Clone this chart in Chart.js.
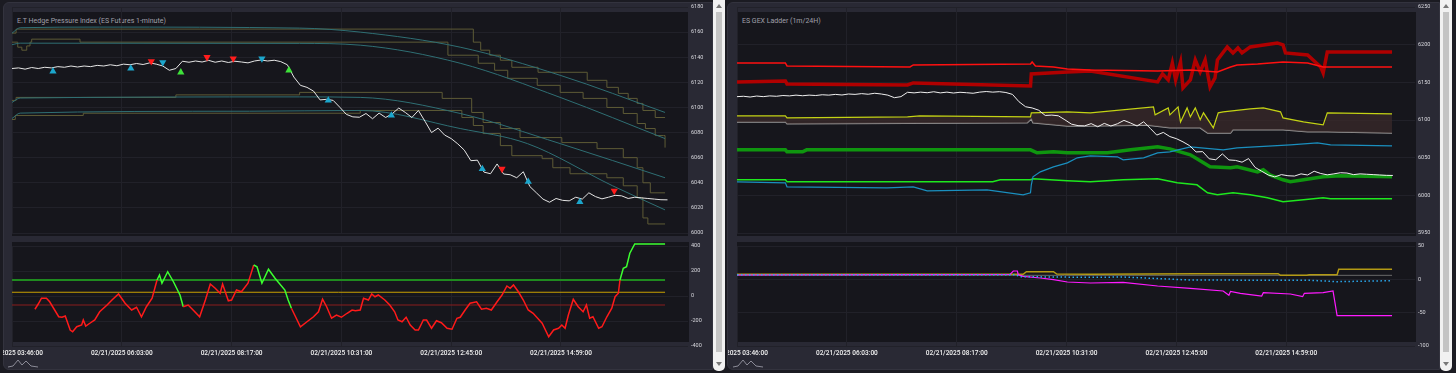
<!DOCTYPE html>
<html>
<head>
<meta charset="utf-8">
<script src="https://cdn.jsdelivr.net/npm/chart.js@4.4.1/dist/chart.umd.min.js"></script>
<style>
  html, body { margin: 0; padding: 0; width: 1456px; height: 373px; overflow: hidden; background: #1b1b22; }
  body { position: relative; font-family: Roboto, "Noto Sans", sans-serif; }
  .panel { position: absolute; top: 2px; height: 368px; background: #292934; border: 1px solid #33333e; box-sizing: border-box; border-radius: 6px 0 0 6px; }
  .plot { position: absolute; background: #16161c; }
  .title { position: absolute; top: 17px; color: #a0a0aa; font-size: 7px; white-space: nowrap; }
  .scroll { position: absolute; top: 0; width: 12px; height: 371px; background: #f1f1f1; border-radius: 0 0 5px 5px; }
  .thumb { position: absolute; left: 3px; width: 6px; top: 12px; height: 340px; background: #c4c4c4; }
  .arrow { position: absolute; left: 3px; width: 0; height: 0; border-left: 3px solid transparent; border-right: 3px solid transparent; }
  canvas { position: absolute; }
  svg { position: absolute; }
</style>
</head>
<body>
<div class="panel" style="left:3px;width:710px"></div>
<div class="plot" style="left:12px;top:12px;width:676px;height:224px"></div>
<div class="plot" style="left:12px;top:242px;width:677px;height:100px"></div>
<div class="title" style="left:17px">E.T Hedge Pressure Index (ES Futures 1-minute)</div>

<div class="panel" style="left:727px;width:713px"></div>
<div class="plot" style="left:737px;top:12px;width:679px;height:224px"></div>
<div class="plot" style="left:737px;top:242px;width:679px;height:100px"></div>
<div class="title" style="left:742px">ES GEX Ladder (1m/24H)</div>

<div class="scroll" style="left:713px"><div class="thumb"></div><div class="arrow" style="top:4px;border-bottom:4px solid #777"></div><div class="arrow" style="top:362px;border-top:4px solid #777"></div></div>
<div class="scroll" style="left:1440px"><div class="thumb"></div><div class="arrow" style="top:4px;border-bottom:4px solid #777"></div><div class="arrow" style="top:362px;border-top:4px solid #777"></div></div>

<svg style="left:7px;top:357px" width="32" height="12"><polyline points="1,10 6,9 11,3 15,8 19,4 24,9 31,10" fill="none" stroke="#8a8a96" stroke-width="1"/></svg>
<svg style="left:732px;top:357px" width="32" height="12"><polyline points="1,10 6,9 11,3 15,8 19,4 24,9 31,10" fill="none" stroke="#8a8a96" stroke-width="1"/></svg>

<canvas id="leftMain" width="710" height="240" style="left:3px;top:0px"></canvas>
<canvas id="leftSub" width="710" height="131" style="left:3px;top:240px"></canvas>
<canvas id="rightMain" width="712" height="240" style="left:728px;top:0px"></canvas>
<canvas id="rightSub" width="712" height="131" style="left:728px;top:240px"></canvas>

<script>
// x axis is minutes since the first bar
const tickMinutes = [0, 134, 268, 402, 536, 670];
const tickLabels = ['02/21/2025 03:46:00', '02/21/2025 06:03:00', '02/21/2025 08:17:00',
  '02/21/2025 10:31:00', '02/21/2025 12:45:00', '02/21/2025 14:59:00'];

// ES price, one value every 8 minutes
const priceStep = 8;
const priceValues = [
  6131, 6131.5, 6130.5, 6131.8, 6131, 6132, 6131.5, 6132.5, 6132, 6133,
  6132.2, 6133, 6132.5, 6133.5, 6133, 6134, 6133.2, 6134.5, 6134, 6135,
  6134.2, 6135.5, 6134.5, 6133, 6129.6, 6131, 6136.8, 6136, 6137, 6136.2,
  6137.5, 6136, 6137, 6135.8, 6136.8, 6136.2, 6135.5, 6137, 6137.8, 6137,
  6137.6, 6136.5, 6134, 6124.2, 6117.6, 6116, 6113, 6106, 6106.5, 6105.6,
  6100.2, 6094.5, 6092.5, 6092.2, 6095.2, 6091, 6095.5, 6092, 6095, 6099.5,
  6096, 6092, 6097.6, 6089, 6080, 6083.5, 6078, 6075.2, 6071, 6066,
  6057.6, 6058, 6048.5, 6047.2, 6055, 6047, 6046.4, 6044, 6048.8, 6037,
  6032, 6027, 6024.5, 6027.5, 6026, 6025.6, 6028.5, 6027, 6032, 6029,
  6027.2, 6028.5, 6030, 6029.6, 6027.5, 6028.5, 6028, 6027.5, 6027, 6026.5,
  6026.4
];

// hedge pressure bands [minute, value]
const teal1 = [[0, 6159.2], [10, 6163.5], [107, 6164], [351, 6163.2], [425, 6160], [547, 6148], [669, 6125.6], [797, 6096]];
const teal2 = [[0, 6150], [10, 6151.2], [351, 6151], [425, 6149.6], [547, 6135.2], [669, 6108], [797, 6075.2]];
const teal3 = [[0, 6104], [10, 6107.5], [351, 6108.4], [425, 6108], [547, 6095.2], [669, 6071.2], [797, 6044]];
const teal4 = [[0, 6091.2], [10, 6095.5], [290, 6097], [425, 6097.6], [547, 6083.2], [629, 6071.2], [733, 6037.6], [797, 6018.4]];

const oliveA = [[0, 6159.2], [5, 6162.4], [563, 6152], [572, 6145.6], [583, 6141.6], [596, 6137.6], [610, 6132], [642, 6128],
  [702, 6121.6], [726, 6116], [740, 6111.2], [752, 6107.2], [763, 6103.2], [770, 6097.6], [785, 6092], [797, 6092]];
const oliveB = [[0, 6152], [7, 6148], [12, 6145.6], [18, 6149], [22, 6152], [24, 6154.4], [83, 6152], [532, 6141.6], [569, 6135.2],
  [589, 6129.6], [605, 6123.2], [641, 6117.6], [669, 6112], [697, 6107.2], [726, 6100], [746, 6095.2], [763, 6087.2],
  [773, 6083.2], [785, 6077.6], [795, 6077.6], [797, 6068]];
const oliveC = [[0, 6105.6], [5, 6108], [200, 6110], [351, 6112], [525, 6107.2], [561, 6096], [575, 6088], [596, 6083.2],
  [620, 6076], [671, 6072], [714, 6067.2], [746, 6060], [763, 6052], [770, 6040], [779, 6032], [797, 6032]];
const oliveD = [[0, 6090.4], [4, 6093.6], [87, 6095.4], [425, 6097.6], [549, 6092], [563, 6085.6], [575, 6079.2], [596, 6069.6],
  [610, 6061.6], [647, 6059.2], [660, 6052], [681, 6047.2], [726, 6044], [746, 6037.6], [763, 6028], [770, 6012],
  [776, 6007.2], [797, 6007.2]];

// signal markers [minute, price]
const cyanUp = [[50, 6128.8], [145, 6131], [386, 6105.6], [463, 6093.6], [574, 6051], [630, 6040.8], [693, 6024.8]];
const greenUp = [[206, 6128], [338, 6129.6]];
const redDown = [[170, 6136.8], [238, 6140], [270, 6139], [598, 6051], [735, 6033.6]];
const cyanDown = [[184, 6136], [305, 6139]];

// pressure oscillator [minute, value] and its levels
const upperLevel = 128;
const midLevel = 30;
const lowerLevel = -72;
const oscillator = [[28, -106], [32, -64], [36, -18], [42, -18], [46, -46], [57, -166], [61, -170], [65, -160], [71, -272],
  [74, -286], [79, -246], [85, -232], [87, -192], [90, -240], [95, -218], [101, -192], [107, -126], [116, -72], [122, -32],
  [130, 16], [138, -58], [146, -112], [152, -90], [158, -166], [164, -86], [171, -18], [177, 128], [180, 168], [183, 102],
  [190, 194], [197, 114], [205, 8], [209, -86], [215, -72], [221, -112], [229, -166], [236, -32], [242, 96], [248, 62],
  [254, 22], [257, 96], [264, -38], [268, -32], [274, 48], [280, 34], [288, 102], [295, 248], [299, 234], [305, 102],
  [313, 214], [321, 142], [333, 48], [337, -32], [341, -98], [345, -152], [352, -246], [360, -206], [368, -166],
  [374, -126], [379, -26], [384, -86], [390, -178], [396, -152], [402, -170], [409, -138], [415, -112], [419, -118],
  [425, -112], [429, -18], [435, -32], [439, 16], [443, -6], [447, 8], [455, -32], [461, -72], [467, -126], [471, -192],
  [476, -206], [481, -170], [486, -232], [492, -272], [496, -272], [502, -192], [506, -192], [512, -258], [518, -198],
  [524, -214], [531, -258], [537, -266], [543, -178], [547, -170], [553, -112], [559, -58], [567, -46], [573, -106],
  [579, -98], [585, -112], [592, -46], [598, 8], [604, 80], [608, 62], [612, 88], [618, 34], [624, -32], [630, -112],
  [636, -138], [647, -218], [655, -326], [661, -272], [667, -258], [671, -232], [675, -258], [679, -152], [685, -26],
  [691, -86], [697, -126], [701, -72], [705, -178], [709, -166], [716, -258], [720, -246], [726, -166], [732, -98],
  [736, -6], [740, 22], [742, 128], [746, 222], [750, 234], [754, 342], [760, 416], [797, 416]];

// GEX ladder levels [minute, value]
const callWall = [[0, 6175.7], [59, 6175.7], [61, 6171.8], [211, 6170.4], [215, 6173.1], [358, 6174.4], [360, 6177.1], [364, 6171.8],
  [386, 6170.4], [403, 6167.8], [431, 6166.5], [513, 6165.1], [553, 6166.5], [586, 6163.8], [602, 6170.4], [610, 6173.1],
  [635, 6174.4], [666, 6177.1], [696, 6175.7], [715, 6170.4], [799, 6170.4]];
const callResistance = [[0, 6150.5], [59, 6151.9], [61, 6147.9], [208, 6146.6], [215, 6149.2], [358, 6145.2], [359, 6161.2],
  [403, 6163.8], [431, 6165.1], [513, 6150.5], [519, 6161.2], [526, 6153.2], [531, 6175.7], [535, 6153.2], [541, 6177.1],
  [544, 6142.6], [553, 6153.2], [559, 6179.7], [565, 6163.8], [571, 6179.7], [577, 6143.9], [583, 6155.9], [586, 6179.7],
  [598, 6197], [605, 6189], [611, 6195.6], [616, 6189], [626, 6197], [659, 6202.3], [666, 6199.6], [669, 6189],
  [696, 6186.4], [712, 6170.4], [715, 6162.5], [720, 6190.3], [799, 6190.3]];
const gammaFlip = [[0, 6105.5], [59, 6105.5], [61, 6102.8], [208, 6104.1], [223, 6105.5], [358, 6104.1], [359, 6109.5],
  [403, 6110.8], [431, 6109.5], [508, 6117.4], [510, 6106.8], [526, 6116.1], [528, 6106.8], [538, 6117.4], [541, 6097.5],
  [549, 6116.1], [553, 6104.1], [559, 6116.1], [565, 6100.2], [569, 6109.5], [581, 6089.6], [587, 6109.5], [593, 6110.8],
  [626, 6114.7], [642, 6116.1], [663, 6110.8], [666, 6102.8], [691, 6097.5], [715, 6093.5], [720, 6109.5], [799, 6108.1]];
const zeroGamma = [[0, 6097.5], [59, 6097.5], [61, 6094.9], [354, 6096.2], [359, 6101.5], [361, 6096.2], [403, 6092.2],
  [431, 6092.2], [500, 6093.5], [528, 6089.6], [565, 6089.6], [574, 6082.9], [602, 6082.9], [605, 6086.9], [666, 6086.9],
  [696, 6084.3], [720, 6084.3], [799, 6082.9]];
const putSupport = [[0, 6060.4], [59, 6060.4], [61, 6057.7], [80, 6057.7], [85, 6060.4], [358, 6060.4], [366, 6056.4],
  [386, 6057.7], [403, 6056.4], [452, 6056.4], [480, 6060.4], [513, 6064.4], [528, 6061.7], [553, 6053.8], [569, 6043.1],
  [577, 6037.8], [602, 6036.5], [610, 6037.8], [635, 6031.2], [642, 6033.9], [650, 6027.2], [666, 6020.6], [675, 6018],
  [691, 6020.6], [715, 6024.6], [736, 6025.9], [799, 6024.6]];
const volTrigger = [[0, 6017.9], [59, 6016.6], [61, 6011.3], [183, 6010], [215, 6011.3], [232, 6006], [305, 6007.3],
  [349, 6000.7], [358, 6003.4], [359, 6014], [361, 6024.6], [370, 6031.2], [386, 6037.8], [403, 6043.1], [415, 6049.8],
  [431, 6052.4], [464, 6051.1], [471, 6047.1], [496, 6049.8], [513, 6056.4], [528, 6057.7], [553, 6064.4], [593, 6060.4],
  [610, 6063], [675, 6067], [708, 6069.7], [724, 6067], [799, 6065.7]];
const putWall = [[0, 6020.6], [59, 6020.6], [61, 6018], [312, 6018], [321, 6020.6], [358, 6020.6], [361, 6021.9],
  [403, 6019.3], [431, 6018], [471, 6020.6], [513, 6021.9], [537, 6016.6], [561, 6014], [574, 6003.4], [586, 6000.7],
  [605, 6003.4], [626, 6000.7], [647, 5996.7], [666, 5991.4], [691, 5994.1], [715, 5996.7], [724, 5995.4], [799, 5995.4]];

// GEX flow panel [minute, value]
const netGex = [[0, 6.5], [207, 7], [333, 7.5], [337, 12.5], [342, 12.5], [343, 7], [349, 4.5], [370, 2], [386, -0.5],
  [403, -4], [431, -5.5], [471, -4.5], [513, -10], [553, -13.5], [593, -17.5], [600, -24], [602, -18], [614, -21],
  [640, -25], [642, -20], [675, -22], [690, -26], [692, -21], [715, -20], [727, -17.5], [732, -54.5], [799, -54.5]];
const callGex = [[0, 7.5], [349, 7.5], [353, 11.5], [386, 11.5], [390, 8], [431, 7.5], [560, 8.5], [660, 8.5], [663, 6],
  [695, 6], [698, 7], [732, 7], [734, 15], [799, 15]];
const baseGex = [[0, 6], [799, 6]];
const dealerDelta = [[0, 7], [340, 7], [345, 4], [431, 3], [471, 3.5], [552, -1], [700, -1.5], [732, -3.5], [799, -2]];

const gridColor = '#212129';
const labelFont = { family: 'Roboto, "Noto Sans", sans-serif', size: 6.5, weight: '500' };
const valueFont = { family: 'Roboto, "Noto Sans", sans-serif', size: 5.5 };

const pts = arr => arr.map(p => ({ x: p[0], y: p[1] }));
const pricePts = priceValues.map((v, i) => ({ x: i * priceStep, y: v }));

function line(data, color, width, extra) {
  return Object.assign({ data: pts(data), borderColor: color, borderWidth: width, pointRadius: 0, tension: 0, fill: false }, extra || {});
}
function marks(data, color, rotation) {
  return { data: pts(data), showLine: false, pointStyle: 'triangle', pointRadius: 4.2, rotation: rotation,
    backgroundColor: color, borderColor: color, borderWidth: 0 };
}

function xAxis(max, showLabels) {
  return {
    type: 'linear', min: 0, max: max,
    grid: { color: gridColor, drawTicks: false },
    border: { display: false },
    afterBuildTicks: s => { s.ticks = tickMinutes.map(v => ({ value: v })); },
    afterFit: s => { s.height = showLabels ? 25 : 0; s.paddingLeft = 0; s.paddingRight = 0; },
    ticks: {
      display: showLabels, autoSkip: false, maxRotation: 0, padding: 3, color: '#f2f2f2', font: labelFont,
      callback: v => { const i = tickMinutes.indexOf(v); return i < 0 ? '' : tickLabels[i]; }
    }
  };
}
function yAxis(min, max, step) {
  return {
    type: 'linear', position: 'right', min: min, max: max,
    grid: { color: gridColor, drawTicks: false },
    border: { display: false },
    afterFit: s => { s.width = 25; s.paddingTop = 0; s.paddingBottom = 0; },
    ticks: { stepSize: step, padding: 3, color: '#d8d8de', font: valueFont, callback: v => String(v) }
  };
}
function options(xMax, showLabels, yMin, yMax, yStep, padTop, padBottom) {
  return {
    responsive: false, animation: false, events: [],
    layout: { padding: { left: 9, right: 0, top: padTop, bottom: padBottom } },
    plugins: { legend: { display: false }, tooltip: { enabled: false } },
    scales: { x: xAxis(xMax, showLabels), y: yAxis(yMin, yMax, yStep) }
  };
}

// hysteresis colouring of the oscillator
const oscGreen = [];
let isGreen = false;
oscillator.forEach(p => {
  if (p[1] >= upperLevel) isGreen = true;
  else if (p[1] < lowerLevel) isGreen = false;
  oscGreen.push(isGreen);
});

new Chart(document.getElementById('leftMain'), {
  type: 'line',
  data: {
    datasets: [
      marks(redDown, '#ff1c1c', 180),
      marks(cyanDown, '#1ca6cc', 180),
      marks(cyanUp, '#1ca6cc', 0),
      marks(greenUp, '#3ee23a', 0),
      { data: pricePts, borderColor: '#e6e6e6', borderWidth: 1, pointRadius: 0, tension: 0 },
      line(teal1, '#2f6f74', 1, { cubicInterpolationMode: 'monotone' }),
      line(teal2, '#2f6f74', 1, { cubicInterpolationMode: 'monotone' }),
      line(teal3, '#2f6f74', 1, { cubicInterpolationMode: 'monotone' }),
      line(teal4, '#2f6f74', 1, { cubicInterpolationMode: 'monotone' }),
      line(oliveA, '#5e5b36', 1, { stepped: true }),
      line(oliveB, '#5e5b36', 1, { stepped: true }),
      line(oliveC, '#5e5b36', 1, { stepped: true }),
      line(oliveD, '#5e5b36', 1, { stepped: true })
    ]
  },
  options: options(825, false, 6000, 6180, 20, 7, 7)
});

new Chart(document.getElementById('leftSub'), {
  type: 'line',
  data: {
    datasets: [
      line(oscillator, '#ff1a1a', 1.5, {
        clip: false,
        segment: { borderColor: c => oscGreen[c.p0DataIndex] ? '#3cff30' : '#ff1a1a' }
      }),
      line([[0, upperLevel], [797, upperLevel]], '#1f8a1f', 2),
      line([[0, midLevel], [797, midLevel]], '#c8a000', 1),
      line([[0, lowerLevel], [797, lowerLevel]], '#8a1c1c', 1.2)
    ]
  },
  options: options(825, true, -400, 400, 200, 6, 0)
});

new Chart(document.getElementById('rightMain'), {
  type: 'line',
  data: {
    datasets: [
      { data: pricePts, borderColor: '#f0f0f0', borderWidth: 1, pointRadius: 0, tension: 0 },
      line(callWall, '#ff1010', 1.5),
      line(callResistance, '#b00000', 3.5),
      line(gammaFlip, '#c4d314', 1.2, { fill: { target: 4 }, backgroundColor: 'rgba(58, 42, 42, 0.75)' }),
      line(zeroGamma, '#9a9a9a', 1.5),
      line(volTrigger, '#1a8fbf', 1.2),
      line(putWall, '#1ee81e', 1.5),
      line(putSupport, '#0f960f', 3.5)
    ]
  },
  options: options(827, false, 5950, 6250, 50, 7, 7)
});

new Chart(document.getElementById('rightSub'), {
  type: 'line',
  data: {
    datasets: [
      line(dealerDelta, '#2aaaf0', 1.5, { borderDash: [1.5, 2.5] }),
      line(netGex, '#ff1aff', 1.2),
      line(callGex, '#b39a14', 1.5),
      line(baseGex, '#6a6a6a', 1)
    ]
  },
  options: options(827, true, -100, 50, 50, 6, 0)
});
</script>
</body>
</html>
